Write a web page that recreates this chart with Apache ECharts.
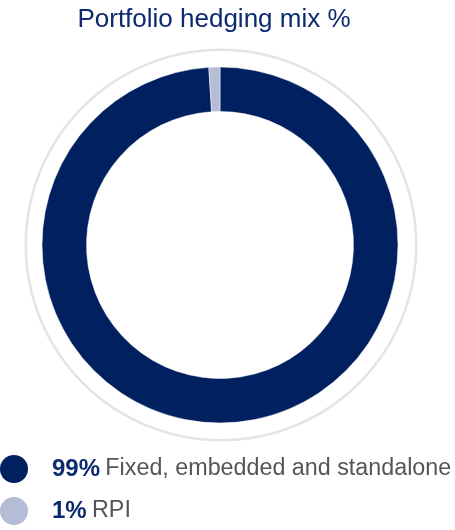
<!DOCTYPE html>
<html>
<head>
<meta charset="utf-8">
<script src="https://cdn.jsdelivr.net/npm/echarts@6/dist/echarts.min.js"></script>
<style>
  html, body { margin: 0; padding: 0; background: #fff; }
  #chart { width: 455px; height: 530px; }
</style>
</head>
<body>
<div id="chart"></div>
<script>
// data
var categories = ['Fixed, embedded and standalone', 'RPI'];
var values = [99, 1];
var colors = ['#002060', '#b4bdd5'];
var titleText = 'Portfolio hedging mix %';

var myChart = echarts.init(document.getElementById('chart'));

var pieData = categories.map(function (c, i) {
    return { name: c, value: values[i], itemStyle: { color: colors[i] } };
});

var option = {
    animation: false,
    title: {
        text: titleText,
        left: 209,
        textAlign: 'center',
        top: 2,
        textStyle: {
            fontFamily: 'Liberation Sans',
            fontWeight: 'normal',
            fontSize: 26,
            color: '#0b2a6f'
        }
    },
    legend: {
        orient: 'vertical',
        left: 0,
        top: 455,
        height: 80,
        padding: 0,
        itemWidth: 28,
        itemHeight: 28,
        itemGap: 14,
        icon: 'circle',
        data: categories,
        selectedMode: false,
        itemStyle: { borderWidth: 0 },
        formatter: function (name) {
            var i = categories.indexOf(name);
            return '{b|' + values[i] + '%} {n|' + name + '}';
        },
        textStyle: {
            padding: [0, 0, 0, 19],
            lineHeight: 28,
            rich: {
                b: { fontFamily: 'Liberation Sans', fontWeight: 'bold', fontSize: 24, color: '#0b2a6f', lineHeight: 28 },
                n: { fontFamily: 'Liberation Sans', fontSize: 23.3, color: '#555555', lineHeight: 28, padding: [0, 0, 0, 2] }
            }
        }
    },
    series: [
        {   // outer thin grey ring
            type: 'pie',
            silent: true,
            center: [221, 245],
            radius: [194, 196.5],
            label: { show: false },
            labelLine: { show: false },
            data: [{ name: 'ring', value: 1, itemStyle: { color: '#e4e4e4' } }]
        },
        {
            type: 'pie',
            center: [220, 245],
            radius: [133.5, 178],
            startAngle: 90,
            clockwise: true,
            label: { show: false },
            labelLine: { show: false },
            itemStyle: { borderColor: '#fff', borderWidth: 0.5 },
            data: pieData
        }
    ]
};
myChart.setOption(option, true);
</script>
</body>
</html>
